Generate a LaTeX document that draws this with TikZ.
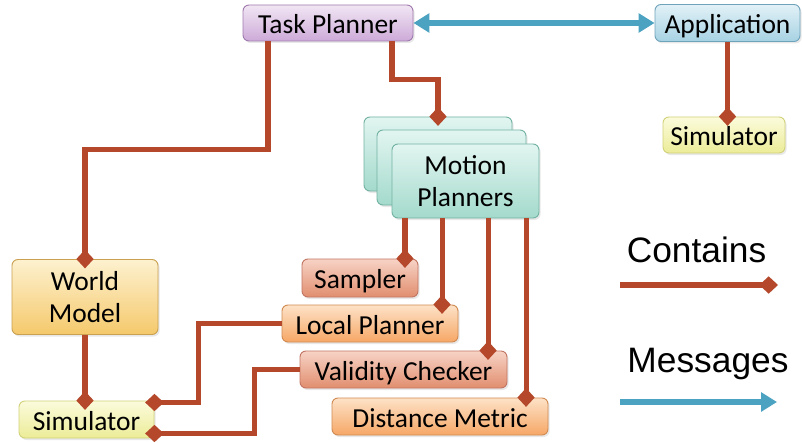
\documentclass[tikz,border=0pt]{standalone}
\usepackage{fontspec}
\setmainfont{Carlito}
\newfontfamily\legendfont{Liberation Sans}
\usetikzlibrary{arrows.meta,shadows}
\newdimen\pxu \pxu=0.75pt
\definecolor{rust}{HTML}{B5482A}
\definecolor{msgblue}{HTML}{4BA3C1}
\definecolor{purpleTop}{HTML}{F1E6F4}\definecolor{purpleBot}{HTML}{CDAAD8}\definecolor{purpleLine}{HTML}{A07AAE}
\definecolor{blueTop}{HTML}{E2F1F7}\definecolor{blueBot}{HTML}{A6D2E3}\definecolor{blueLine}{HTML}{6FA3BA}
\definecolor{yellowTop}{HTML}{FBFBDC}\definecolor{yellowBot}{HTML}{ECEC98}\definecolor{yellowLine}{HTML}{D2D27A}
\definecolor{tealTop}{HTML}{E2F5F1}\definecolor{tealBot}{HTML}{A3DACB}\definecolor{tealLine}{HTML}{72B2A2}
\definecolor{goldTop}{HTML}{FDF1CF}\definecolor{goldBot}{HTML}{F5C96C}\definecolor{goldLine}{HTML}{C9A150}
\definecolor{salmonTop}{HTML}{F7D3C6}\definecolor{salmonBot}{HTML}{E18E6E}\definecolor{salmonLine}{HTML}{C27462}
\definecolor{orangeTop}{HTML}{FDE2C7}\definecolor{orangeBot}{HTML}{F6A766}\definecolor{orangeLine}{HTML}{D08A52}
\begin{document}
\begin{tikzpicture}[x=0.75pt,y=-0.75pt,
  box/.style 2 args={draw, rounded corners=4.5pt, line width=0.7pt,
    minimum width=#1\pxu, minimum height=#2\pxu, inner sep=0pt, align=center,
    font=\fontsize{20.6}{24}\selectfont,
    drop shadow={shadow xshift=1.2pt, shadow yshift=-1.5pt, opacity=0.18}},
  oneline/.style={text height=17pt, text depth=1pt},
  purplebox/.style={top color=purpleTop, bottom color=purpleBot, draw=purpleLine},
  bluebox/.style={top color=blueTop, bottom color=blueBot, draw=blueLine},
  yellowbox/.style={top color=yellowTop, bottom color=yellowBot, draw=yellowLine},
  tealbox/.style={top color=tealTop, bottom color=tealBot, draw=tealLine},
  goldbox/.style={top color=goldTop, bottom color=goldBot, draw=goldLine},
  salmonbox/.style={top color=salmonTop, bottom color=salmonBot, draw=salmonLine},
  orangebox/.style={top color=orangeTop, bottom color=orangeBot, draw=orangeLine},
  contains/.style={draw=rust, line width=3.8pt,
    -{Diamond[length=14pt, width=13pt]}, shorten >=-7pt},
  messages/.style={draw=msgblue, line width=3.8pt},
  legend/.style={font=\legendfont\fontsize{26.5}{30}\selectfont, inner sep=0pt}
]
% canvas
\fill[white] (0,0) rectangle (802,442);
\useasboundingbox (0,0) rectangle (802,442);

% boxes
\node[box={170}{36}, oneline, purplebox] (task) at (328,23) {Task Planner};
\node[box={145}{37}, oneline, bluebox] (app) at (727.5,23) {Application};
\node[box={122}{36}, oneline, yellowbox] (appsim) at (724,135) {Simulator};

\node[box={148}{74}, tealbox] (mp1) at (438,154) {};
\node[box={149}{75}, tealbox] (mp2) at (451.5,167.5) {};
\node[box={147}{74}, tealbox] (mp) at (465.5,181) {Motion\\Planners};

\node[box={146}{75}, goldbox] (world) at (85,297) {World\\Model};
\node[box={135}{37}, oneline, yellowbox] (sim) at (86.5,419.5) {Simulator};

\node[box={116}{38}, oneline, salmonbox] (sampler) at (360,278) {Sampler};
\node[box={176}{37}, oneline, orangebox] (local) at (370,323.5) {Local Planner};
\node[box={207}{37}, oneline, salmonbox] (valid) at (403.5,369.5) {Validity Checker};
\node[box={216}{37}, oneline, orangebox] (dist) at (440,416.5) {Distance Metric};

% message link
\draw[messages, {Triangle[length=12pt, width=14pt]}-{Triangle[length=12pt, width=14pt]}]
  (task.east) -- (task.east -| app.west);

% containment links
\draw[contains] ([xshift=-45pt]task.south) -- ++(0,108) -| (world.north);
\draw[contains] ([xshift=48pt]task.south) -- ++(0,38) -| (mp1.north);
\draw[contains] (app.south) -- (app.south |- appsim.north);
\draw[contains] (world.south) -- (world.south |- sim.north);

\draw[contains] ([xshift=-45.4pt]mp.south) coordinate (m1) -- (m1 |- sampler.north);
\draw[contains] ([xshift=-17.6pt]mp.south) coordinate (m2) -- (m2 |- local.north);
\draw[contains] ([xshift=16.9pt]mp.south) coordinate (m3) -- (m3 |- valid.north);
\draw[contains] ([xshift=45.4pt]mp.south) coordinate (m4) -- (m4 |- dist.north);

\draw[contains] (local.west) -- ++(-83,0) |- ([yshift=12.75pt]sim.east);
\draw[contains] (valid.west) -- ++(-45,0) |- ([yshift=-10.5pt]sim.east);

% legend
\node[legend, anchor=base] (lcont) at (696.5,262) {Contains};
\node[legend, anchor=base] (lmsg) at (708,372) {Messages};
\coordinate (c1) at (620,285);
\coordinate (c2) at (778,285);
\coordinate (g1) at (620,402);
\coordinate (g2) at (777,402);
\draw[contains, shorten >=0pt] (c1) -- (c2);
\draw[messages, -{Triangle[length=12pt, width=14pt]}] (g1) -- (g2);
\end{tikzpicture}
\end{document}
